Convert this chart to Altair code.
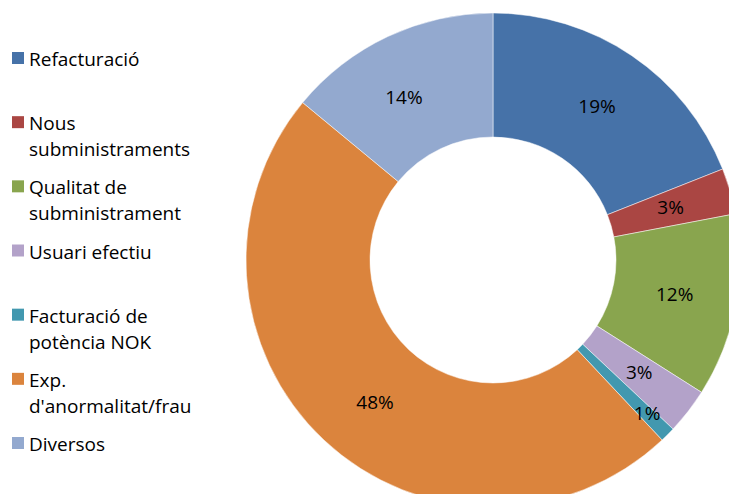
import altair as alt
import pandas as pd

categories = ["Refacturació", "Nous subministraments", "Qualitat de subministrament",
              "Usuari efectiu", "Facturació de potència NOK", "Exp. d'anormalitat/frau", "Diversos"]
legend_labels = ["Refacturació", "Nous\nsubministraments", "Qualitat de\nsubministrament",
                 "Usuari efectiu", "Facturació de\npotència NOK", "Exp.\nd'anormalitat/frau", "Diversos"]
values = [19, 3, 12, 3, 1, 48, 14]
colors = ["#4672A8", "#AA4643", "#89A54E", "#B3A2C9", "#4298AF", "#DB843D", "#93A9CF"]

df = pd.DataFrame({
    "cat": categories,
    "legend": legend_labels,
    "value": values,
    "order": list(range(len(categories))),
})
df["pct"] = [f"{v}%" for v in values]

FONT = "Open Sans"
FS = 19
CX, CY = 485, 252
R_OUT, R_IN = 247, 123

color = alt.Color("cat:N", scale=alt.Scale(domain=categories, range=colors), legend=None)
theta = alt.Theta("value:Q", stack=True)

base = alt.Chart(df)

arcs = base.mark_arc(outerRadius=R_OUT, innerRadius=R_IN, stroke="white", strokeWidth=0.5).encode(
    theta=theta, color=color, order=alt.Order("order:Q"),
    x=alt.value(CX), y=alt.value(CY),
)

labels = base.transform_filter("datum.value >= 2").mark_text(
    radius=185, font=FONT, fontSize=FS, color="black"
).encode(theta=theta, text="pct:N", order=alt.Order("order:Q"),
         x=alt.value(CX), y=alt.value(CY))

small_labels = base.mark_text(
    radius=218, font=FONT, fontSize=FS, color="black"
).encode(theta=theta, text=alt.condition("datum.value < 2", "pct:N", alt.value("")),
         order=alt.Order("order:Q"), x=alt.value(CX), y=alt.value(CY))

ypos = alt.Y("cat:N", scale=alt.Scale(type="point", domain=categories, range=[50, 435], padding=0),
             axis=None)

leg_sq = base.mark_square(size=144, opacity=1).encode(
    y=ypos, x=alt.value(10), color=color)

leg_txt = base.mark_text(align="left", baseline="top", dy=-7, lineBreak="\n",
                         font=FONT, fontSize=FS, lineHeight=26, color="black").encode(
    y=ypos, x=alt.value(21), text="legend:N")

chart = alt.layer(arcs, labels, small_labels, leg_sq, leg_txt).properties(
    width=721, height=486,
    autosize=alt.AutoSizeParams(type="none"),
    padding=0,
).configure_view(stroke=None)

chart.save("out.html", embed_options={"renderer": "svg", "actions": False})
